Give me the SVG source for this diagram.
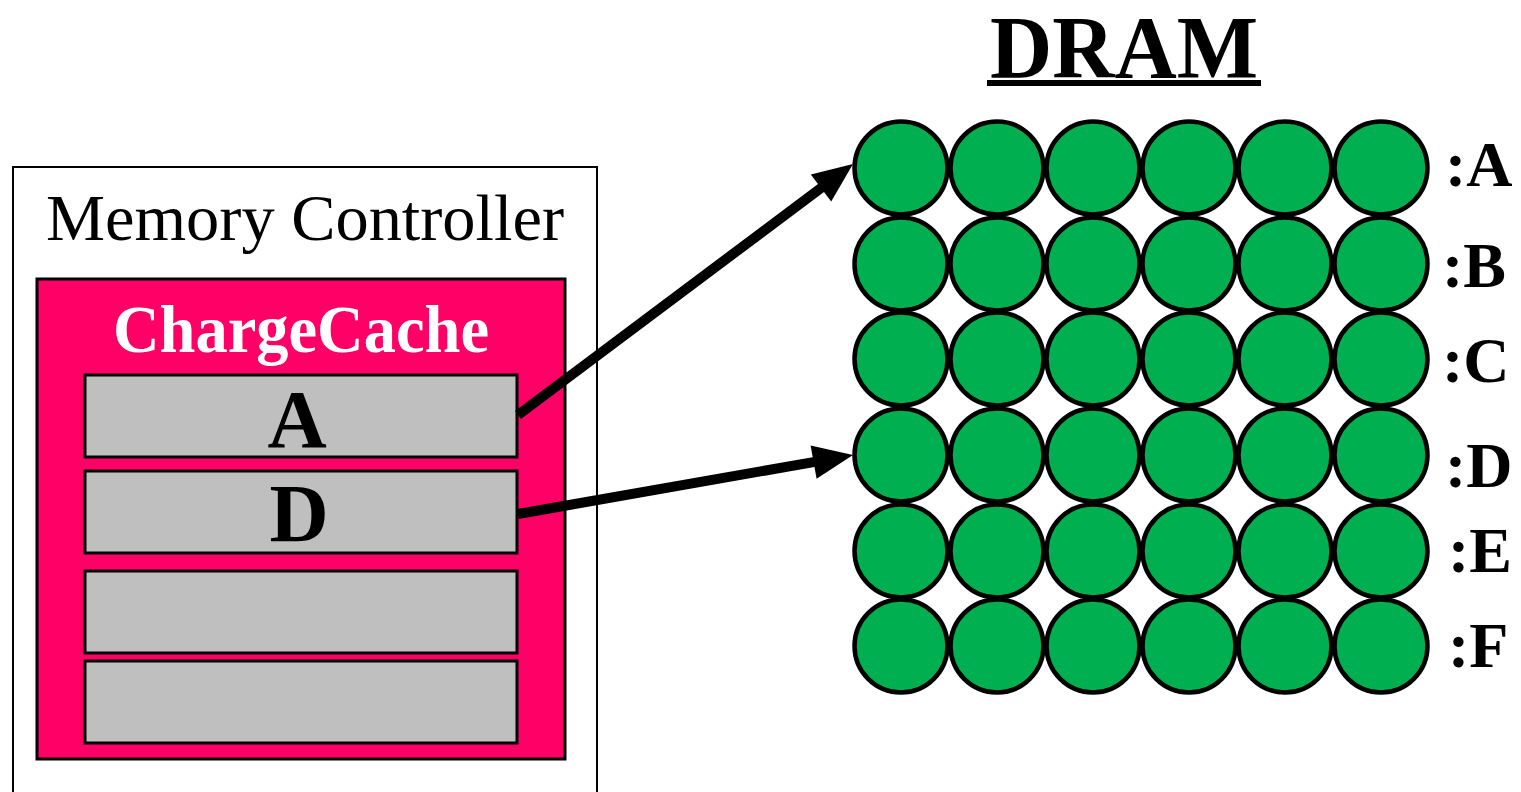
<svg xmlns="http://www.w3.org/2000/svg" width="1521" height="792" viewBox="0 0 1521 792">
  <style>
    .serif { font-family: "Liberation Serif", "DejaVu Serif", serif; }
    .bold { font-weight: bold; }
    .slot { fill: #BFBFBF; stroke: #000; stroke-width: 3; }
    .cell { fill: #00B050; stroke: #000; stroke-width: 4.5; }
    .row { font-family: "Liberation Serif", "DejaVu Serif", serif; font-weight: bold; font-size: 64px; fill: #000; }
    .wire { stroke: #000; stroke-width: 10; fill: none; }
    .head { fill: #000; }
  </style>
  <defs>
    <circle id="c" r="46.5" class="cell"/>
    <g id="dramrow">
      <use href="#c" x="901"/>
      <use href="#c" x="997"/>
      <use href="#c" x="1093"/>
      <use href="#c" x="1189"/>
      <use href="#c" x="1285"/>
      <use href="#c" x="1381"/>
    </g>
  </defs>
  <rect width="1521" height="792" fill="#fff"/>

  <!-- memory controller enclosure -->
  <g id="memory-controller">
    <rect x="13" y="167" width="584" height="640" fill="#fff" stroke="#000" stroke-width="2"/>
    <text class="serif" x="305" y="240" font-size="65" text-anchor="middle" textLength="518" lengthAdjust="spacingAndGlyphs">Memory Controller</text>
  </g>

  <!-- ChargeCache with its entries -->
  <g id="chargecache">
    <rect x="37" y="279" width="528" height="480" fill="#FF0066" stroke="#000" stroke-width="3"/>
    <text class="serif bold" x="301" y="352" font-size="68" fill="#fff" text-anchor="middle" textLength="376" lengthAdjust="spacingAndGlyphs">ChargeCache</text>
  </g>
  <g id="entry-a">
    <rect class="slot" x="85" y="375" width="432" height="82"/>
    <text class="serif bold" x="297" y="447" font-size="82" text-anchor="middle">A</text>
  </g>
  <g id="entry-d">
    <rect class="slot" x="85" y="471" width="432" height="82"/>
    <text class="serif bold" x="299" y="541" font-size="82" text-anchor="middle">D</text>
  </g>
  <g id="entry-3">
    <rect class="slot" x="85" y="571" width="432" height="82"/>
  </g>
  <g id="entry-4">
    <rect class="slot" x="85" y="661" width="432" height="82"/>
  </g>

  <!-- DRAM array -->
  <g id="dram">
    <text class="serif bold" x="1124" y="77" font-size="88" text-anchor="middle" textLength="268" lengthAdjust="spacingAndGlyphs">DRAM</text>
    <rect x="987" y="80" width="274" height="6" fill="#000"/>
    <use href="#dramrow" y="168"/>
    <use href="#dramrow" y="264"/>
    <use href="#dramrow" y="359"/>
    <use href="#dramrow" y="455"/>
    <use href="#dramrow" y="551"/>
    <use href="#dramrow" y="646"/>
  </g>
  <g id="row-labels">
    <text class="row" x="1445" y="186">:A</text>
    <text class="row" x="1442" y="287">:B</text>
    <text class="row" x="1442" y="382">:C</text>
    <text class="row" x="1445" y="487">:D</text>
    <text class="row" x="1448" y="572">:E</text>
    <text class="row" x="1448" y="667">:F</text>
  </g>

  <!-- cache entries pointing at DRAM rows -->
  <g id="connectors">
    <path class="wire" d="M518,415 L829,182"/>
    <polygon class="head" points="853,164 831.2,201.6 810.8,174.4"/>
    <path class="wire" d="M518,514 L823.5,460.3"/>
    <polygon class="head" points="853,455 816.6,478.8 810.6,445.4"/>
  </g>
</svg>
